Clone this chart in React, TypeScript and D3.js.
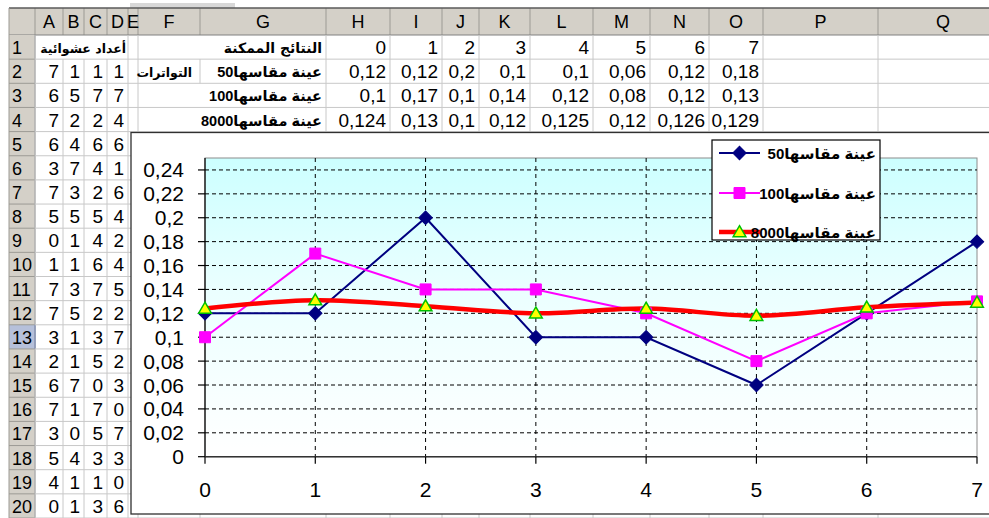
import React from 'react';
import * as d3 from 'd3';

// ---- data ----
const colLetters = ['A', 'B', 'C', 'D', 'E', 'F', 'G', 'H', 'I', 'J', 'K', 'L', 'M', 'N', 'O', 'P', 'Q'];
const randomTitle = 'أعداد عشوائية';
const outcomesTitle = 'النتائج الممكنة';
const freqTitle = 'التواترات';
const seriesNames = ['عينة مقاسها50', 'عينة مقاسها100', 'عينة مقاسها8000'];

// columns A..D, rows 2..20
const randomDigits = [
  [7, 1, 1, 1], [6, 5, 7, 7], [7, 2, 2, 4], [6, 4, 6, 6], [3, 7, 4, 1],
  [7, 3, 2, 6], [5, 5, 5, 4], [0, 1, 4, 2], [1, 1, 6, 4], [7, 3, 7, 5],
  [7, 5, 2, 2], [3, 1, 3, 7], [2, 1, 5, 2], [6, 7, 0, 3], [7, 1, 7, 0],
  [3, 0, 5, 7], [5, 4, 3, 3], [4, 1, 1, 0], [0, 1, 3, 6],
];

const outcomes = [0, 1, 2, 3, 4, 5, 6, 7];
const table50 = [0.12, 0.12, 0.2, 0.1, 0.1, 0.06, 0.12, 0.18];
const table100 = [0.1, 0.17, 0.1, 0.14, 0.12, 0.08, 0.12, 0.13];
const table8000 = [0.124, 0.13, 0.1, 0.12, 0.125, 0.12, 0.126, 0.129];

// values as plotted in the chart
const plot50 = [0.12, 0.12, 0.2, 0.1, 0.1, 0.06, 0.12, 0.18];
const plot100 = [0.1, 0.17, 0.14, 0.14, 0.12, 0.08, 0.12, 0.13];
const plot8000 = [0.124, 0.131, 0.126, 0.12, 0.124, 0.118, 0.125, 0.129];

const yTickValues = [0, 0.02, 0.04, 0.06, 0.08, 0.1, 0.12, 0.14, 0.16, 0.18, 0.2, 0.22, 0.24];

// ---- layout ----
const W = 989;
const H = 518;
const FONT = "'Liberation Sans', Arial, 'DejaVu Sans', sans-serif";
const colWidths = [26, 28, 21, 23, 21, 10, 62, 126, 64, 52, 37, 51, 63, 57, 59, 54, 115, 130];
const colEdges = colWidths.reduce((acc, w) => { acc.push(acc[acc.length - 1] + w); return acc; }, [9]);
const headTop = 8;
const headBottom = 35;
const rowH = 24.15;
const nRows = 20;
const rowTop = (r: number) => headBottom + (r - 1) * rowH;
// column index helper: 0 = row header, 1 = A ...
const cx0 = (c: number) => colEdges[c];
const cx1 = (c: number) => colEdges[c + 1];

const locale = d3.formatLocale({ decimal: ',', thousands: ' ', grouping: [3], currency: ['', ''] });
const fmt = locale.format('.3~f');

const chartBox = { x: 131, y: 132.5, w: 880, h: 381.5 };
const plot = { left: 205, right: 977, top: 158, bottom: 456.7 };

export default function App() {
  const x = d3.scaleLinear().domain([0, 7]).range([plot.left, plot.right]);
  const y = d3.scaleLinear().domain([0, 0.25]).range([plot.bottom, plot.top]);

  const straight = d3.line<number>().x((_, i) => x(outcomes[i])).y(d => y(d));
  const smooth = d3.line<number>().x((_, i) => x(outcomes[i])).y(d => y(d)).curve(d3.curveCatmullRom.alpha(0.5));

  const diamond = d3.symbol().type(d3.symbolSquare).size(90)()!;
  const square = d3.symbol().type(d3.symbolSquare).size(121)()!;
  const triangle = d3.symbol().type(d3.symbolTriangle).size(70)()!;

  const cellText = (c: number, r: number, txt: string) => (
    <text key={`t${c}-${r}-${txt}`} x={cx1(c) - 4} y={rowTop(r) + rowH / 2 + 7}
      textAnchor="end" fontSize={19} fontFamily={FONT} fill="#000">{txt}</text>
  );

  const AR = "'DejaVu Sans', sans-serif";
  const arLabel = "'Liberation Sans', 'DejaVu Sans', sans-serif";

  // vertical grid lines in rows 1..20 (skip merged / overflowed boundaries)
  const vLines: JSX.Element[] = [];
  for (let c = 1; c < colEdges.length - 1; c++) {
    for (let r = 1; r <= nRows; r++) {
      if (r === 1 && (c === 2 || c === 3 || c === 4)) continue; // merged A1:D1
      if ((r === 1 || r === 3 || r === 4) && c === 7) continue; // F|G hidden by text overflow
      vLines.push(<line key={`v${c}-${r}`} x1={colEdges[c]} x2={colEdges[c]} y1={rowTop(r)} y2={rowTop(r) + rowH} stroke="#C8C8C8" />);
    }
  }
  const hLines: JSX.Element[] = [];
  for (let r = 1; r <= nRows; r++) {
    hLines.push(<line key={`h${r}`} x1={cx0(1)} x2={W} y1={rowTop(r) + rowH} y2={rowTop(r) + rowH} stroke="#C8C8C8" />);
  }

  const legendRows = [
    { name: seriesNames[0], color: '#000080', width: 2, marker: 'diamond', ty: 153 },
    { name: seriesNames[1], color: '#FF00FF', width: 2, marker: 'square', ty: 193 },
    { name: seriesNames[2], color: '#FF0000', width: 4.5, marker: 'triangle', ty: 232 },
  ];

  const markerFor = (kind: string, px: number, py: number, key: string) => {
    if (kind === 'diamond') return <path key={key} d={diamond} transform={`translate(${px},${py}) rotate(45)`} fill="#000080" stroke="#000080" />;
    if (kind === 'square') return <path key={key} d={square} transform={`translate(${px},${py})`} fill="#FF00FF" stroke="#FF00FF" />;
    return <path key={key} d={triangle} transform={`translate(${px},${py + 1})`} fill="#FFFF00" stroke="#00C000" strokeWidth={1.5} />;
  };

  return (
    <svg width={W} height={H} viewBox={`0 0 ${W} ${H}`} style={{ position: 'absolute', left: 0, top: 0, display: 'block', background: '#fff' }}>
      <defs>
        <linearGradient id="plotGrad" x1="0" y1="0" x2="0" y2="1">
          <stop offset="0%" stopColor="#CCFFFF" />
          <stop offset="45%" stopColor="#EBFFFF" />
          <stop offset="100%" stopColor="#FFFFFF" />
        </linearGradient>
      </defs>
      <rect x={0} y={0} width={W} height={H} fill="#fff" />
      {/* little grey bar above the sheet */}
      <rect x={130} y={3} width={105} height={5} fill="#D8D8D8" />

      {/* column header row */}
      <rect x={9} y={headTop} width={W - 9} height={headBottom - headTop} fill="#D4D0C8" />
      {colLetters.map((l, i) => (
        <g key={l}>
          <line x1={cx1(i + 1)} x2={cx1(i + 1)} y1={headTop} y2={headBottom} stroke="#9C9A94" />
          <text x={(cx0(i + 1) + cx1(i + 1)) / 2} y={headTop + 20} textAnchor="middle" fontSize={18} fontFamily={FONT} fill="#000">{l}</text>
        </g>
      ))}
      <line x1={cx1(0)} x2={cx1(0)} y1={headTop} y2={headBottom} stroke="#9C9A94" />
      <line x1={9} x2={W} y1={headTop} y2={headTop} stroke="#5A5A5A" strokeWidth={1.5} />
      <line x1={9} x2={W} y1={headBottom} y2={headBottom} stroke="#808080" />

      {/* row header column */}
      <rect x={9} y={headBottom} width={colWidths[0]} height={H - headBottom} fill="#D4D0C8" />
      <rect x={9} y={rowTop(13)} width={colWidths[0]} height={rowH} fill="#B6C0DA" />
      {d3.range(1, nRows + 1).map(r => (
        <g key={`rh${r}`}>
          <line x1={9} x2={cx1(0)} y1={rowTop(r) + rowH} y2={rowTop(r) + rowH} stroke="#9C9A94" />
          <text x={12} y={rowTop(r) + rowH / 2 + 7} fontSize={18} fontFamily={FONT} fill="#000">{r}</text>
        </g>
      ))}
      <line x1={cx1(0)} x2={cx1(0)} y1={headBottom} y2={H} stroke="#808080" />
      <line x1={cx1(0)} x2={cx1(0)} y1={rowTop(13)} y2={rowTop(14)} stroke="#4A64A8" strokeWidth={1.5} />
      <line x1={9} x2={9} y1={headTop} y2={H} stroke="#9C9A94" />

      {/* cell grid */}
      {hLines}
      {vLines}

      {/* cell contents */}
      <text x={cx1(4) - 2} y={rowTop(1) + rowH / 2 + 6} textAnchor="end" fontSize={12.5} fontWeight="bold" fontFamily={AR}>{randomTitle}</text>
      {randomDigits.map((row, ri) => row.map((v, ci) => cellText(ci + 1, ri + 2, String(v))))}
      <text x={cx1(7) - 4} y={rowTop(1) + rowH / 2 + 6} textAnchor="end" fontSize={14} fontWeight="bold" fontFamily={AR}>{outcomesTitle}</text>
      <text x={cx1(6) - 8} y={rowTop(2) + rowH / 2 + 6} textAnchor="end" fontSize={12.5} fontWeight="bold" fontFamily={AR}>{freqTitle}</text>
      {seriesNames.map((s, i) => (
        <text key={s} x={cx1(7) - 4} y={rowTop(i + 2) + rowH / 2 + 6} textAnchor="end" fontSize={14.5} fontWeight="bold" fontFamily={arLabel}>{s}</text>
      ))}
      {outcomes.map((o, i) => cellText(8 + i, 1, String(o)))}
      {table50.map((v, i) => cellText(8 + i, 2, fmt(v)))}
      {table100.map((v, i) => cellText(8 + i, 3, fmt(v)))}
      {table8000.map((v, i) => cellText(8 + i, 4, fmt(v)))}

      {/* embedded chart */}
      <rect x={chartBox.x} y={chartBox.y} width={chartBox.w} height={chartBox.h} fill="#fff" stroke="#303030" strokeWidth={1.3} />
      <rect x={plot.left} y={plot.top} width={plot.right - plot.left} height={plot.bottom - plot.top} fill="url(#plotGrad)" stroke="#8C8C8C" />

      {/* gridlines */}
      {yTickValues.filter(v => v > 0).map(v => (
        <line key={`gy${v}`} x1={plot.left} x2={plot.right} y1={y(v)} y2={y(v)} stroke="#000" strokeDasharray="4,3" />
      ))}
      {outcomes.filter(o => o > 0 && o < 7).map(o => (
        <line key={`gx${o}`} x1={x(o)} x2={x(o)} y1={plot.top} y2={plot.bottom} stroke="#000" strokeDasharray="4,4" />
      ))}

      {/* axes */}
      <line x1={plot.left} x2={plot.left} y1={plot.top} y2={plot.bottom} stroke="#000" strokeWidth={1.2} />
      <line x1={plot.left} x2={plot.right} y1={plot.bottom} y2={plot.bottom} stroke="#333" strokeWidth={1.5} />
      {yTickValues.map(v => (
        <g key={`ty${v}`}>
          <line x1={plot.left - 7} x2={plot.left} y1={y(v)} y2={y(v)} stroke="#000" strokeWidth={1.2} />
          <text x={plot.left - 21} y={y(v) + 7.5} textAnchor="end" fontSize={21} fontFamily={FONT} fill="#000">{locale.format('.2~f')(v)}</text>
        </g>
      ))}
      {outcomes.map(o => (
        <g key={`tx${o}`}>
          <line x1={x(o)} x2={x(o)} y1={plot.bottom} y2={plot.bottom + 7} stroke="#000" strokeWidth={1.2} />
          <text x={x(o)} y={497} textAnchor="middle" fontSize={21} fontFamily={FONT} fill="#000">{o}</text>
        </g>
      ))}

      {/* series */}
      <path d={straight(plot50)!} fill="none" stroke="#000080" strokeWidth={2} />
      <path d={straight(plot100)!} fill="none" stroke="#FF00FF" strokeWidth={2} />
      <path d={smooth(plot8000)!} fill="none" stroke="#FF0000" strokeWidth={4.5} />
      {plot50.map((v, i) => markerFor('diamond', x(outcomes[i]), y(v), `m50${i}`))}
      {plot100.map((v, i) => markerFor('square', x(outcomes[i]), y(v), `m100${i}`))}
      {plot8000.map((v, i) => markerFor('triangle', x(outcomes[i]), y(v), `m8000${i}`))}

      {/* legend */}
      <rect x={712} y={140} width={168} height={100} fill="#fff" stroke="#000" strokeWidth={1.2} />
      {legendRows.map(l => (
        <g key={l.name}>
          <line x1={719} x2={760} y1={l.ty} y2={l.ty} stroke={l.color} strokeWidth={l.width} />
          {markerFor(l.marker, 739.5, l.ty, `lg${l.marker}`)}
          <text x={876} y={l.ty + 5.5} textAnchor="end" fontSize={15} fontWeight="bold" fontFamily={arLabel} fill="#000">{l.name}</text>
        </g>
      ))}
    </svg>
  );
}
